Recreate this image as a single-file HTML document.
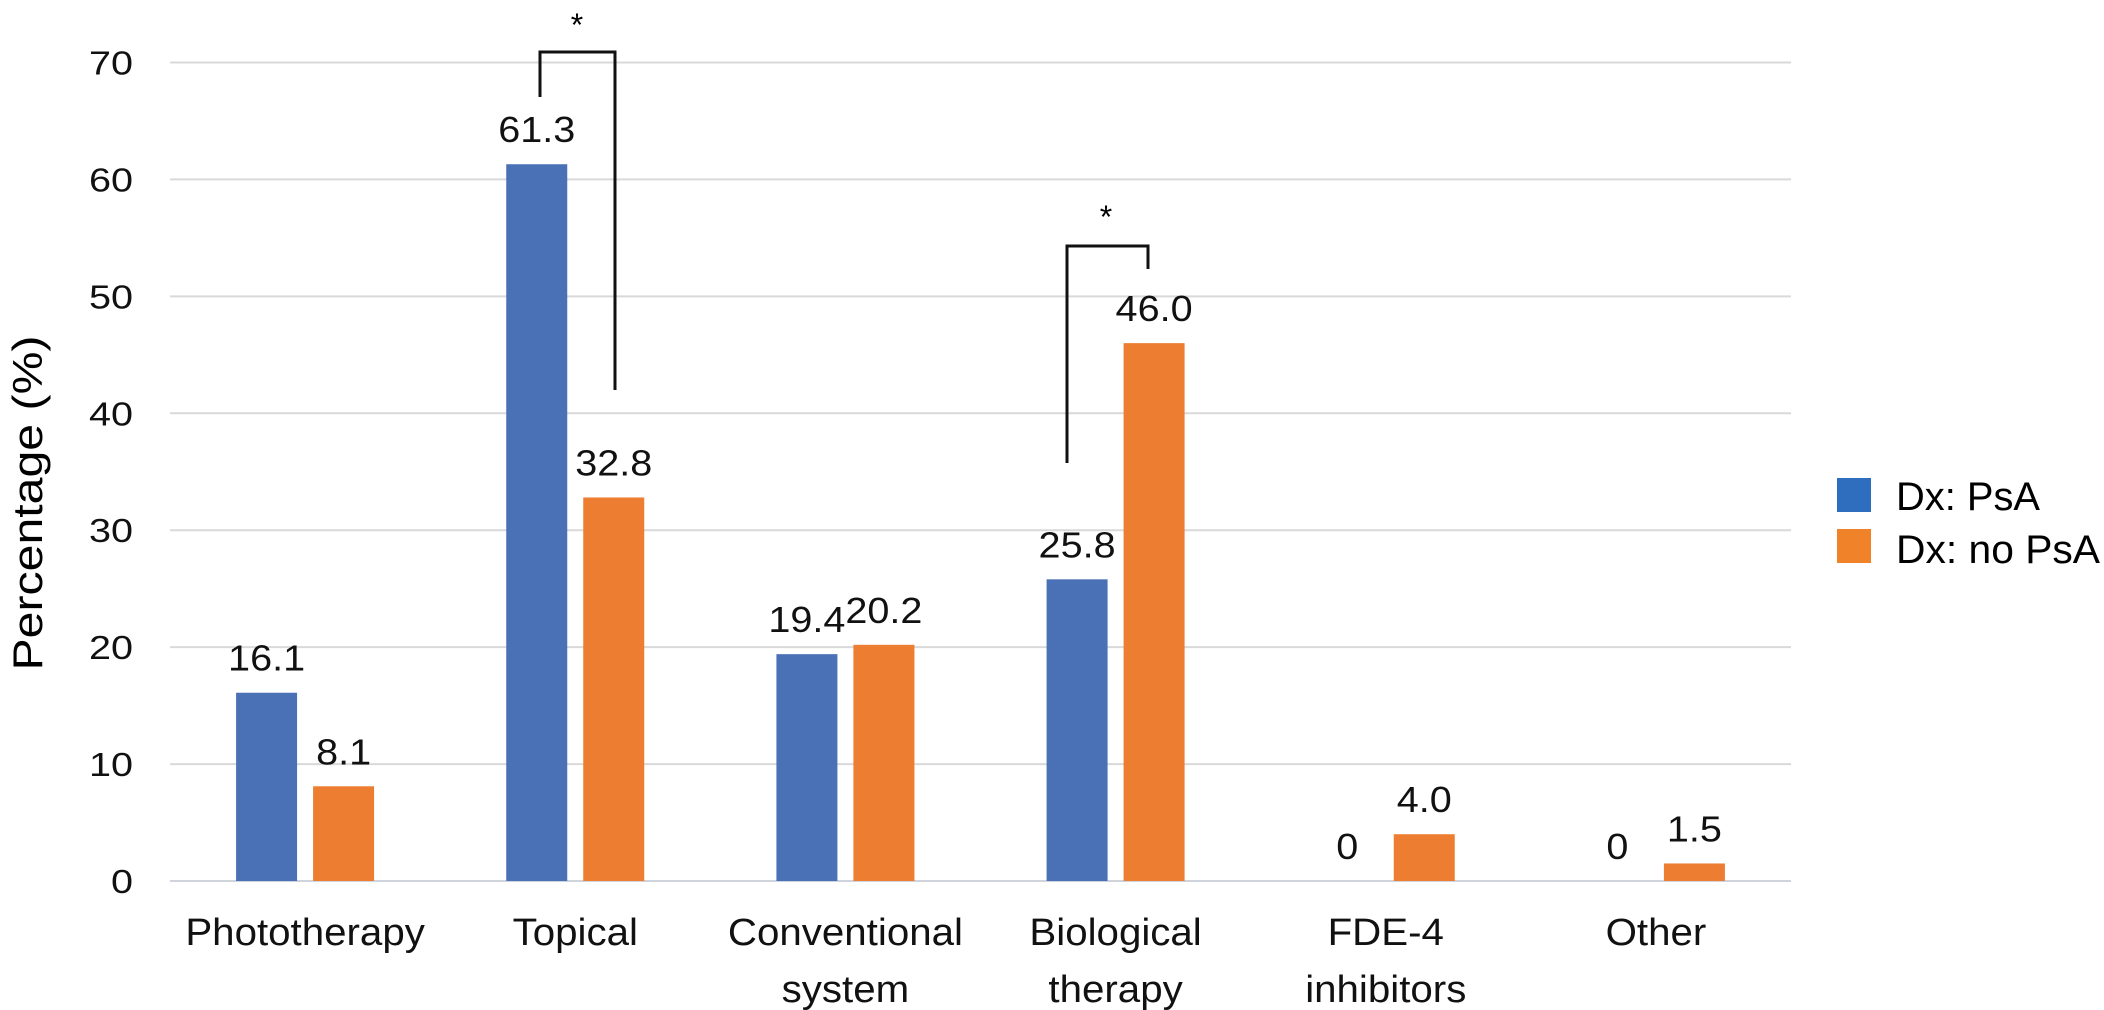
<!DOCTYPE html>
<html><head><meta charset="utf-8"><style>
html,body{margin:0;padding:0;background:#fff;}
svg{display:block;font-family:"Liberation Sans",sans-serif;}
</style></head><body>
<svg id="chart" width="2104" height="1010" viewBox="0 0 2104 1010">
<g id="grid"></g>
<g id="bars"></g>
<g id="labels"></g>
<g>
<polyline points="540,97 540,52 615,52 615,390" fill="none" stroke="#111" stroke-width="3"/>
<text x="577" y="36" font-size="32" text-anchor="middle">*</text>
</g>
<g>
<polyline points="1067,463 1067,246 1148,246 1148,269" fill="none" stroke="#111" stroke-width="3"/>
<text x="1106" y="228" font-size="32" text-anchor="middle">*</text>
</g>
<text transform="translate(42,503) rotate(-90)" font-size="42" text-anchor="middle" textLength="335" lengthAdjust="spacingAndGlyphs">Percentage (%)</text>
<g>
<rect x="1837" y="478" width="34" height="34" fill="#2f6ebf"/>
<text x="1896" y="510" font-size="40" textLength="144" lengthAdjust="spacingAndGlyphs">Dx: PsA</text>
<rect x="1837" y="529" width="34" height="34" fill="#f0832a"/>
<text x="1896" y="563" font-size="40" textLength="204" lengthAdjust="spacingAndGlyphs">Dx: no PsA</text>
</g>
</svg>
<script>
const categories = [["Phototherapy"],["Topical"],["Conventional","system"],["Biological","therapy"],["FDE-4","inhibitors"],["Other"]];
const psaValues = [16.1, 61.3, 19.4, 25.8, 0, 0];
const noPsaValues = [8.1, 32.8, 20.2, 46.0, 4.0, 1.5];
const psaLabels = ["16.1","61.3","19.4","25.8","0","0"];
const noPsaLabels = ["8.1","32.8","20.2","46.0","4.0","1.5"];
const yTicks = [0,10,20,30,40,50,60,70];

const NS = "http://www.w3.org/2000/svg";
const x0 = 170, x1 = 1791, yBase = 881, yTop = 62.5, yMax = 70;
const y = v => yBase - (v / yMax) * (yBase - yTop);
const band = (x1 - x0) / categories.length;
const cx = i => x0 + band * (i + 0.5);
const barW = 61;
const grid = document.getElementById('grid');
const bars = document.getElementById('bars');
const labels = document.getElementById('labels');

function mkText(parent, x, yy, str, fs, anchor, sx) {
  const t = document.createElementNS(NS, 'text');
  t.setAttribute('transform', `translate(${x},${yy}) scale(${sx},1)`);
  t.setAttribute('font-size', fs);
  t.setAttribute('text-anchor', anchor);
  t.setAttribute('fill', '#111');
  t.textContent = str;
  parent.appendChild(t);
  return t;
}

yTicks.forEach(v => {
  const l = document.createElementNS(NS, 'line');
  l.setAttribute('x1', x0); l.setAttribute('x2', x1);
  l.setAttribute('y1', y(v)); l.setAttribute('y2', y(v));
  l.setAttribute('stroke', v === 0 ? '#cfd3dc' : '#d9d9d9');
  l.setAttribute('stroke-width', 2);
  
  
  grid.appendChild(l);
  const t = mkText(labels, 133, y(v) + 12, String(v), 33, 'end', 1.2);
  
  
});

categories.forEach((lines, i) => {
  const c = cx(i);
  const bx = c - 69, ox = c + 8;
  const b = document.createElementNS(NS, 'rect');
  b.setAttribute('x', bx); b.setAttribute('width', barW);
  b.setAttribute('y', y(psaValues[i])); b.setAttribute('height', yBase - y(psaValues[i]));
  b.setAttribute('fill', '#4a71b6');
  
  
  bars.appendChild(b);
  const o = document.createElementNS(NS, 'rect');
  o.setAttribute('x', ox); o.setAttribute('width', barW);
  o.setAttribute('y', y(noPsaValues[i])); o.setAttribute('height', yBase - y(noPsaValues[i]));
  o.setAttribute('fill', '#ec7d31');
  
  
  bars.appendChild(o);
  const t1 = mkText(labels, bx + barW / 2, y(psaValues[i]) - 22, psaLabels[i], 36, 'middle', 1.1);
  
  
  const t2 = mkText(labels, ox + barW / 2, y(noPsaValues[i]) - 22, noPsaLabels[i], 36, 'middle', 1.1);
  
  
  lines.forEach((ln, k) => {
    const t = mkText(labels, c, 945 + k * 57, ln, 38, 'middle', 1.06);
    
    
  });
});
</script>
</body></html>
